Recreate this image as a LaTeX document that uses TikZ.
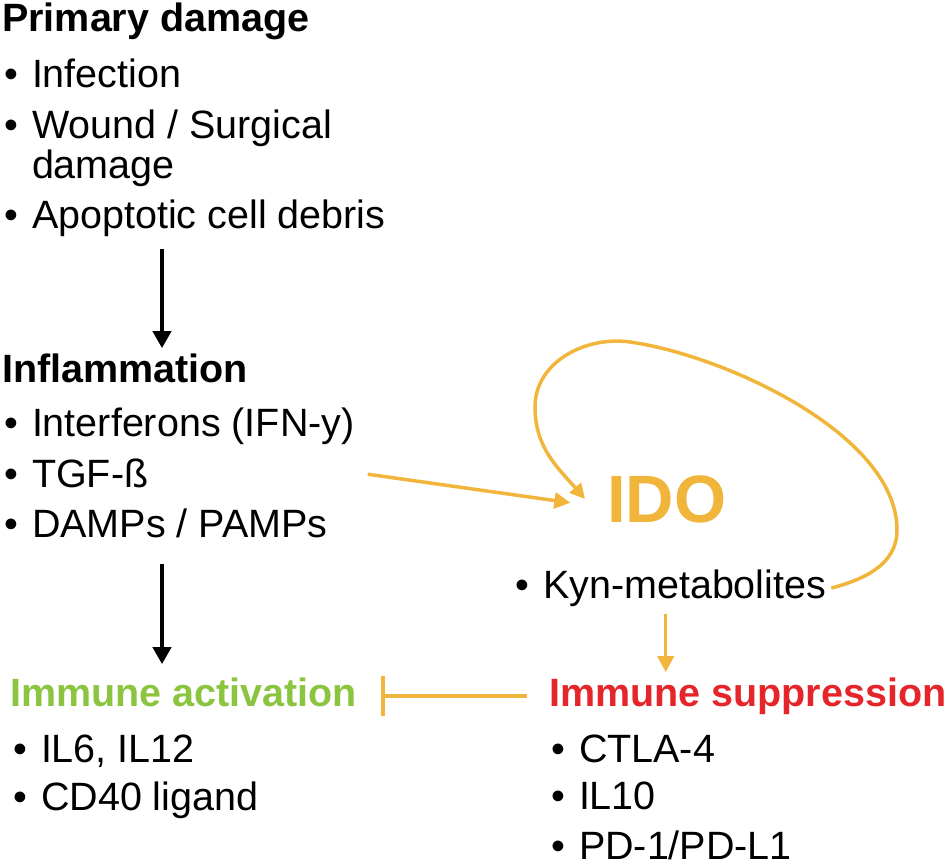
\documentclass[tikz,border=0pt]{standalone}
\usepackage{fontspec}
\setmainfont{Liberation Sans}
\usetikzlibrary{arrows.meta}

\definecolor{idoorange}{RGB}{242,181,59}
\definecolor{actgreen}{RGB}{139,197,64}
\definecolor{supred}{RGB}{229,37,42}

\newcommand{\blist}[1]{\begin{tabular}[t]{@{}l@{\hspace{14pt}}l@{}}#1\end{tabular}}

\tikzset{
  heading/.style={anchor=base west, inner sep=0pt, font=\fontsize{39.5}{38}\selectfont\bfseries},
  itemlist/.style={anchor=base west, inner sep=0pt, font=\fontsize{39.5}{38}\selectfont},
  blk/.style={line width=4pt, -{Triangle[width=18pt,length=17pt]}},
  ora/.style={draw=idoorange, line width=3.5pt, -{Triangle[width=16pt,length=16pt]}},
}

\begin{document}
\begin{tikzpicture}[x=1pt,y=1pt]
		\useasboundingbox (0,0) rectangle (951,-866);

		% left column
		\node[heading] (damage) at (2,-32) {Primary damage};
		\node[itemlist] (damagelist) at (4,-88) {\blist{\textbullet & Infection\\[10pt]
			\textbullet & Wound / Surgical\\
			& damage\\[10pt]
			\textbullet & Apoptotic cell debris}};

		\node[heading] (inflam) at (2,-383) {Inflammation};
		\node[itemlist] (inflamlist) at (4,-437) {\blist{\textbullet & Interferons (IFN-y)\\[10pt]
			\textbullet & TGF-ß\\[10pt]
			\textbullet & DAMPs / PAMPs}};

		\node[heading, text=actgreen] (activ) at (10,-706) {Immune activation};
		\node[itemlist] (activlist) at (13,-762) {\blist{\textbullet & IL6, IL12\\[8pt]
			\textbullet & CD40 ligand}};

		% right column
		\node[heading, text=idoorange, font=\fontsize{67}{70}\selectfont\bfseries] (IDO) at (607,-522) {IDO};
		\node[itemlist] (kyn) at (515,-598) {\blist{\textbullet & Kyn-metabolites}};

		\node[heading, text=supred] (suppress) at (549,-706) {Immune suppression};
		\node[itemlist] (supplist) at (551,-762) {\blist{\textbullet & CTLA-4\\[9pt]
			\textbullet & IL10\\[9pt]
			\textbullet & PD-1/PD-L1}};

		\coordinate (spine) at (162,0);
		\coordinate (loopright) at (897,-530);
		\coordinate (looptop) at (630,-342);
		\coordinate (loopleft) at (535,-407);

		\draw[blk, shorten <=9pt, shorten >=6pt] (damagelist.south -| spine) -- (inflam.north -| spine);
		\draw[blk, shorten <=15pt, shorten >=13pt] (inflamlist.south -| spine) -- (activ.north -| spine);

		\draw[ora, shorten <=13pt, shorten >=37pt] ([yshift=6pt]inflamlist.east) -- ([yshift=-9pt]IDO.west);
		\draw[ora, -{Triangle[width=15pt,length=15pt]}, shorten <=5pt] (kyn.east) to[out=15,in=-90] (loopright)
			to[out=90,in=-8,looseness=0.75] (looptop) to[out=172,in=90] (loopleft) to[out=-90,in=131] ([xshift=-22pt]IDO.west);
		\draw[ora, shorten <=4pt, shorten >=5pt] ([xshift=-5pt]kyn.south) -- ([xshift=-5pt]kyn.south |- suppress.north);
		\draw[draw=idoorange, line width=3.5pt, -{Bar[width=40pt]}, shorten <=22pt, shorten >=24pt] (suppress.west) -- (suppress.west -| activ.east);

	\end{tikzpicture}
\end{document}
